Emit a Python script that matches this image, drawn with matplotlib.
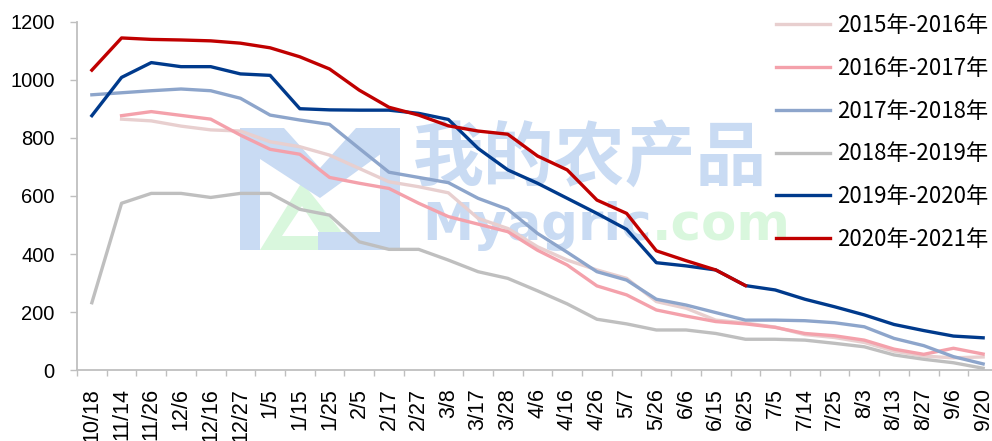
import numpy as np
import matplotlib
matplotlib.use("Agg")
import matplotlib.pyplot as plt
from matplotlib.patches import Polygon, Rectangle

# 日期（类别轴）
dates = ["10/18", "11/14", "11/26", "12/6", "12/16", "12/27", "1/5", "1/15", "1/25",
         "2/5", "2/17", "2/27", "3/8", "3/17", "3/28", "4/6", "4/16", "4/26", "5/7",
         "5/26", "6/6", "6/15", "6/25", "7/5", "7/14", "7/25", "8/3", "8/13", "8/27",
         "9/6", "9/20"]

nan = np.nan
s2015 = [nan, 865, 859, 841, 828, 824, 787, 770, 741, 695, 649, 632, 611, 523, 488,
         425, 379, 345, 316, 236, 213, 172, 162, 148, 122, 112, 95, 65, 48, 42, 45]
s2016 = [nan, 877, 891, 878, 865, 810, 761, 744, 664, 644, 626, 575, 529, 503, 477,
         413, 362, 290, 259, 207, 186, 167, 159, 147, 126, 118, 103, 72, 54, 75, 55]
s2017 = [949, 956, 963, 969, 963, 937, 879, 862, 847, 764, 682, 664, 646, 592, 554,
         471, 406, 339, 310, 244, 224, 198, 172, 172, 170, 163, 149, 109, 84, 46, 21]
s2018 = [232, 575, 609, 609, 595, 609, 609, 554, 534, 442, 416, 416, 379, 339, 316,
         273, 228, 175, 159, 138, 138, 126, 106, 106, 103, 92, 80, 52, 37, 25, 6]
s2019 = [877, 1009, 1060, 1046, 1046, 1021, 1016, 901, 897, 896, 896, 885, 864, 764, 690,
         644, 592, 540, 485, 370, 359, 345, 291, 276, 244, 218, 190, 157, 136, 117, 111]
s2020 = [1034, 1145, 1140, 1138, 1135, 1127, 1111, 1080, 1038, 965, 906, 879, 842, 824, 813,
         738, 690, 586, 540, 411, 377, 345, 291, nan, nan, nan, nan, nan, nan, nan, nan]

labels = ["2015年-2016年", "2016年-2017年", "2017年-2018年",
          "2018年-2019年", "2019年-2020年", "2020年-2021年"]
series = [s2015, s2016, s2017, s2018, s2019, s2020]
colors = ["#E8CFCF", "#F4A1AB", "#8DA5CB", "#BFBFBF", "#003A8C", "#C00000"]

W, H = 992, 441
fig = plt.figure(figsize=(W / 100, H / 100), dpi=100)
ax = fig.add_axes([77 / W, 1 - 370 / H, (998 - 77) / W, (370 - 22) / H])

# 水印（画在折线下面）
wm_blue = "#C9DBF3"
wm_green = "#D9F7DD"


def px(x, y):
    return (x / W, 1 - y / H)


tf = fig.transFigure
ax.add_patch(Polygon([px(260, 250), px(302, 182), px(356, 250)], closed=True,
                     facecolor=wm_green, edgecolor="none", transform=tf, zorder=0.5))
ax.add_patch(Polygon([px(282, 236), px(302, 206), px(322, 236)], closed=True,
                     facecolor="white", edgecolor="none", transform=tf, zorder=0.55))
ax.add_patch(Rectangle(px(240, 250), 20 / W, 122 / H, facecolor=wm_blue,
                       edgecolor="none", transform=tf, zorder=0.6))
ax.add_patch(Rectangle(px(380, 250), 20 / W, 122 / H, facecolor=wm_blue,
                       edgecolor="none", transform=tf, zorder=0.6))
ax.add_patch(Rectangle(px(318, 250), 82 / W, 18 / H, facecolor=wm_blue,
                       edgecolor="none", transform=tf, zorder=0.6))
ax.add_patch(Polygon([px(240, 128), px(284, 128), px(320, 168), px(356, 128),
                      px(400, 128), px(400, 140), px(320, 198), px(240, 146)],
                     closed=True, facecolor=wm_blue, edgecolor="none",
                     transform=tf, zorder=0.6))
ax.text(413 / W, 1 - 160 / H, "我的农产品", transform=tf, fontsize=51,
        family=["Noto Sans CJK SC", "DejaVu Sans"], weight="bold", color=wm_blue,
        ha="left", va="center", zorder=0.7)
t1 = ax.text(422 / W, 1 - 226 / H, "Myagric", transform=tf, fontsize=37,
             family="DejaVu Sans", weight="bold", color=wm_blue,
             ha="left", va="center", zorder=0.7)
fig.canvas.draw()
bb = t1.get_window_extent()
ax.text(bb.x1 / W, 1 - 226 / H, ".com", transform=tf, fontsize=37,
        family="DejaVu Sans", weight="bold", color=wm_green,
        ha="left", va="center", zorder=0.7)

x = np.arange(len(dates))
for ys, lab, c in zip(series, labels, colors):
    ax.plot(x, ys, color=c, lw=2.4, label=lab, solid_joinstyle="round", zorder=2)

ax.set_xlim(-0.5, len(dates) - 0.5)
ax.set_ylim(0, 1200)
ax.set_yticks(range(0, 1201, 200))
ax.set_xticks(x)
ax.set_xticklabels(dates, rotation=90, family="Liberation Sans", fontsize=15.5)
ax.set_xticks(np.arange(-0.5, len(dates), 1), minor=True)
ax.tick_params(axis="x", which="major", length=0, pad=13)
ax.tick_params(axis="x", which="minor", length=4, width=1, color="#BFBFBF")
ax.tick_params(axis="y", length=5, width=1, color="#BFBFBF", pad=11, labelsize=14.5)
for t in ax.get_yticklabels():
    t.set_family("Liberation Sans")

for s in ["top", "right"]:
    ax.spines[s].set_visible(False)
for s in ["left", "bottom"]:
    ax.spines[s].set_color("#BFBFBF")
    ax.spines[s].set_linewidth(1.3)

leg = fig.legend(loc="upper left", bbox_to_anchor=(776 / W, 1 - 14 / H),
                 frameon=False, prop={"family": ["Noto Sans CJK SC", "DejaVu Sans"], "size": 16},
                 handlelength=2.45, handletextpad=0.3, labelspacing=0.89,
                 borderpad=0, borderaxespad=0)

fig.savefig("out.png", dpi=100)
